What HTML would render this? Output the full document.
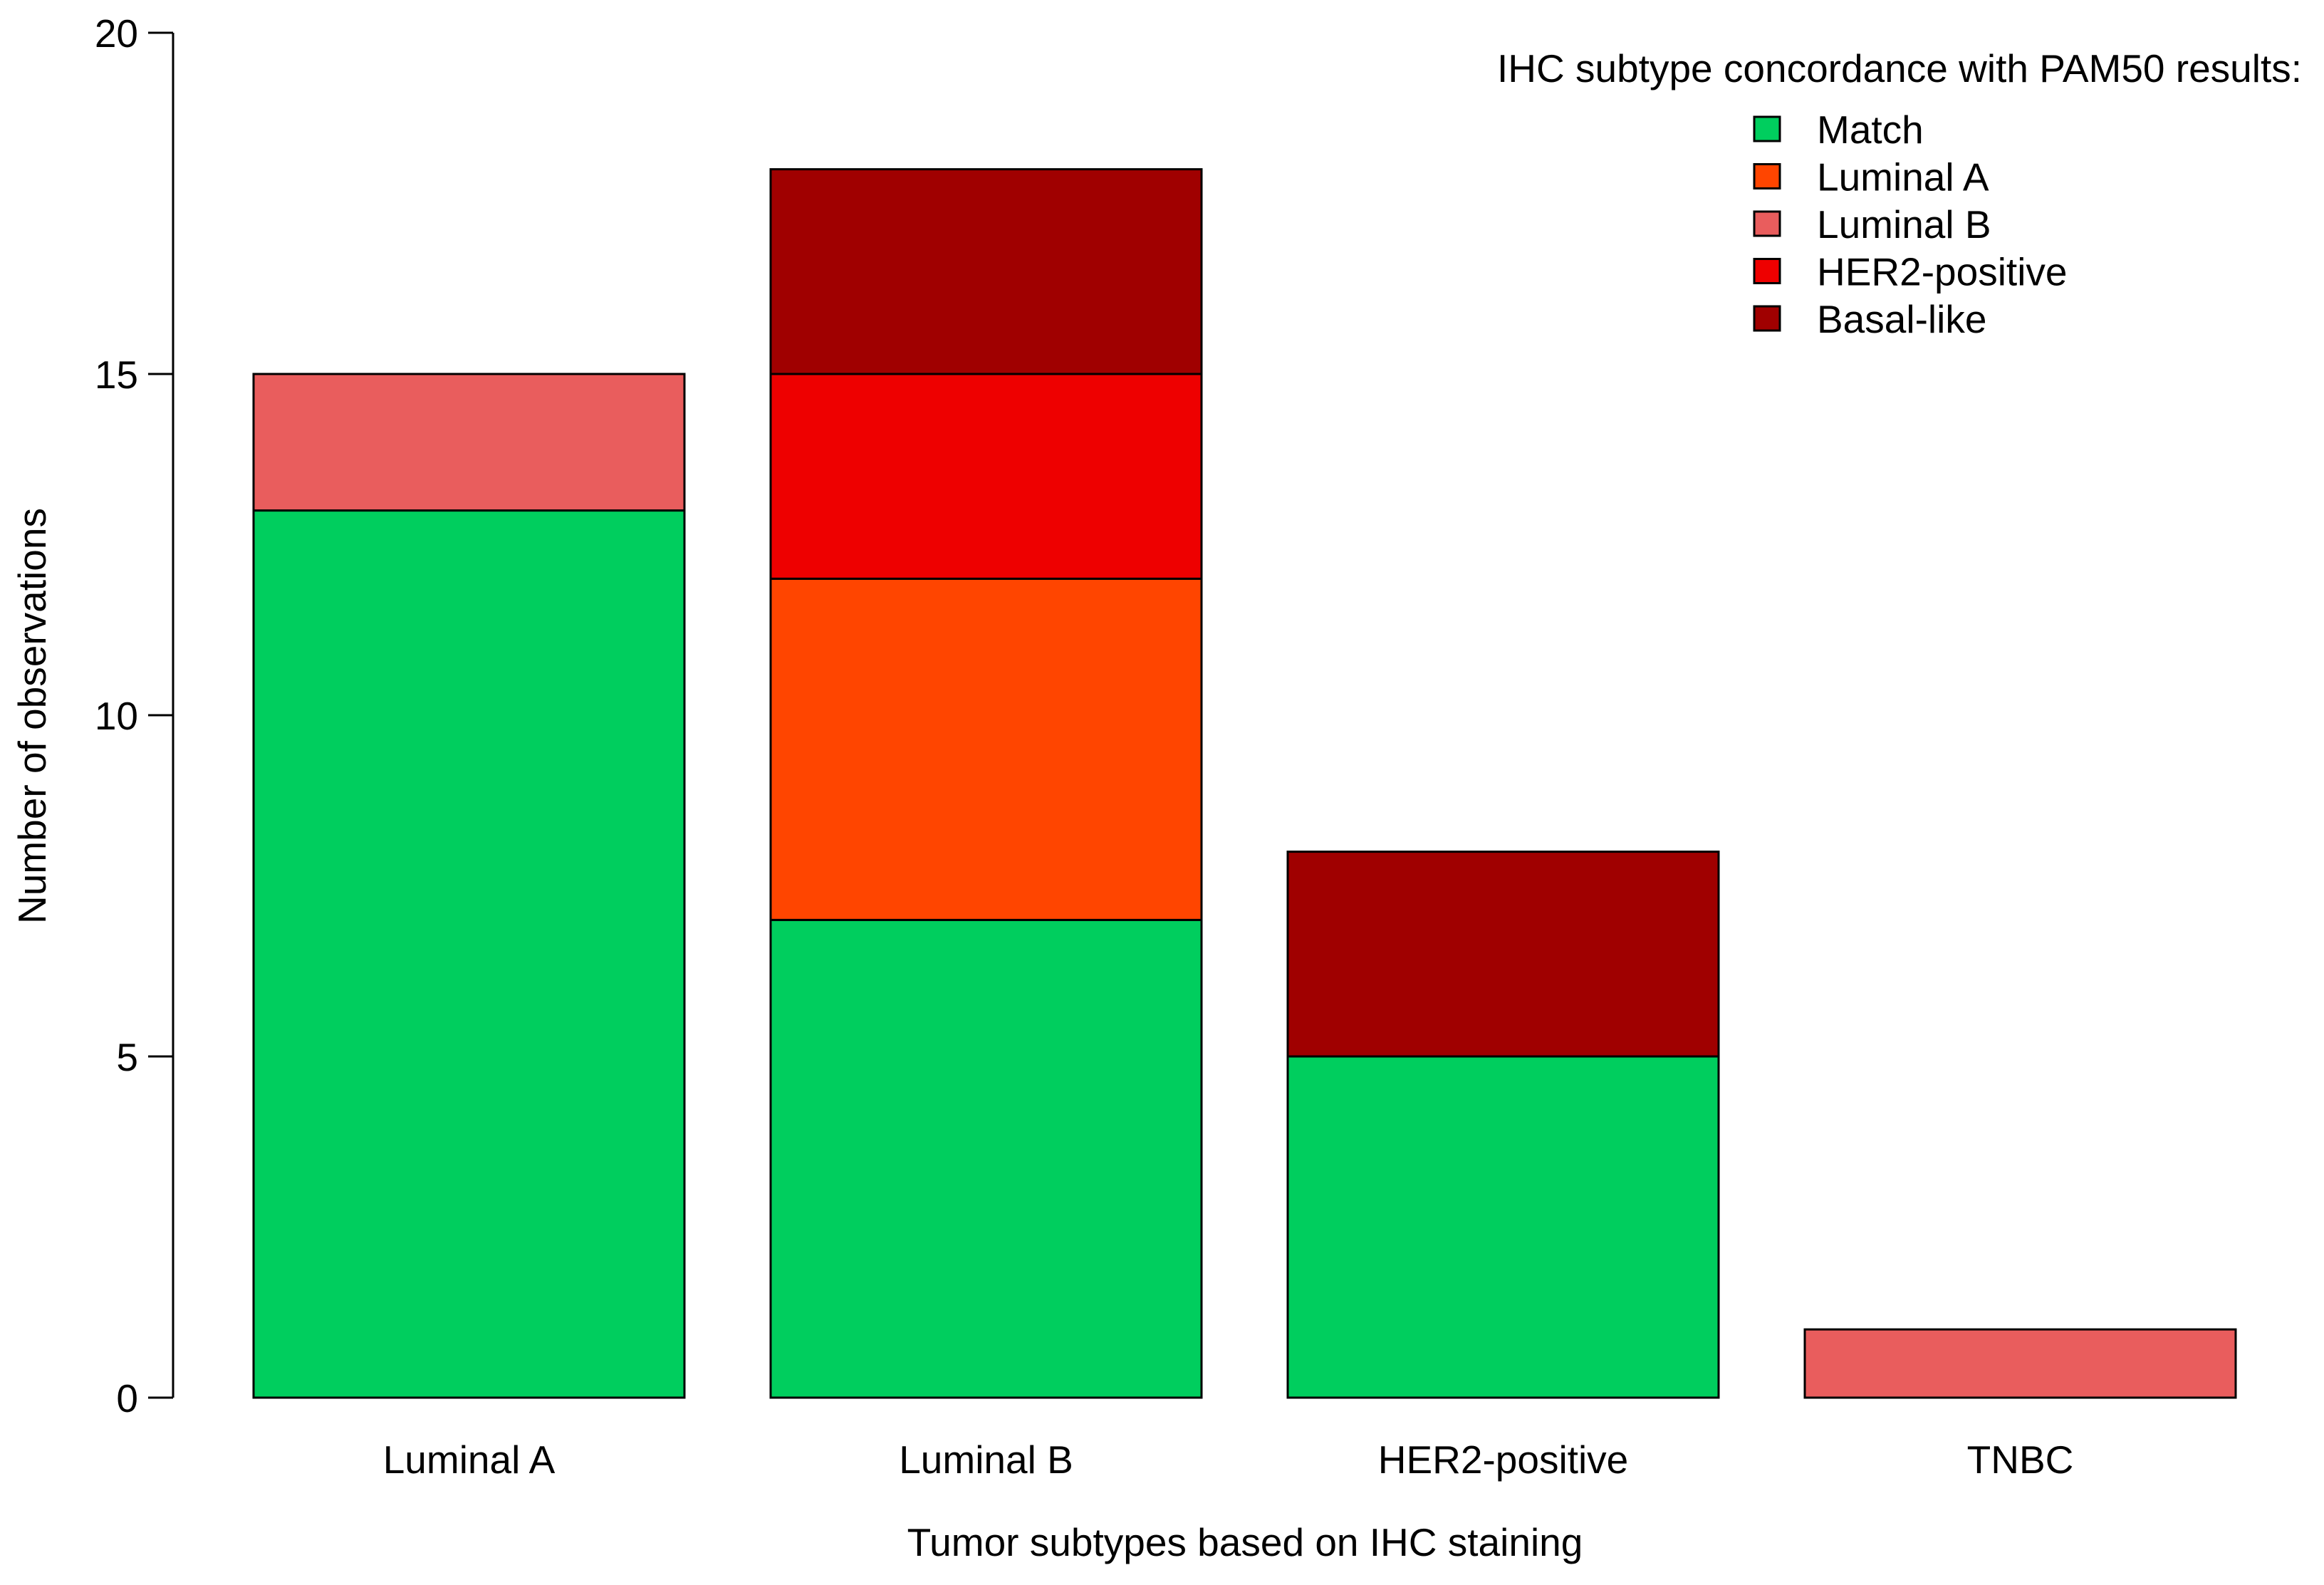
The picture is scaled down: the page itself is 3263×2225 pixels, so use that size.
<!DOCTYPE html>
<html><head><meta charset="utf-8"><style>
html,body{margin:0;padding:0;background:#fff}
svg{display:block}
text{font-family:"Liberation Sans",Arial,sans-serif;fill:#000}
</style></head><body>
<svg id="chart" width="3263" height="2225" viewBox="0 0 3263 2225" xmlns="http://www.w3.org/2000/svg">
<g id="bars"></g>
<g id="axis"></g>
<g id="xlabels"></g>
<text x="1748" y="2184" font-size="55" text-anchor="middle">Tumor subtypes based on IHC staining</text>
<text transform="translate(64,1005) rotate(-90)" font-size="55" text-anchor="middle">Number of observations</text>
<g id="legend">
<text x="2102" y="115" font-size="55">IHC subtype concordance with PAM50 results:</text>
</g>
</svg>
<script>
const categories = ["Luminal A","Luminal B","HER2-positive","TNBC"];
const seriesNames = ["Match","Luminal A","Luminal B","HER2-positive","Basal-like"];
const seriesColors = ["#00CE5E","#FF4500","#E95D5D","#EE0000","#A00000"];
const matchVals = [13,7,5,0];
const lumAVals = [0,5,0,0];
const lumBVals = [2,0,0,1];
const her2Vals = [0,3,0,0];
const basalVals = [0,3,3,0];
const yTicks = [0,5,10,15,20];

const series = [matchVals,lumAVals,lumBVals,her2Vals,basalVals];
const NS="http://www.w3.org/2000/svg";
const y0=1962, y20=46, axisX=243;
const yScale = v => y0 - v*(y0-y20)/20;
const barLeft0=356, barStep=726, barW=605;
const xScale = i => barLeft0 + i*barStep;

const bars=document.getElementById('bars');
categories.forEach((c,i)=>{
  let cum=0;
  series.forEach((s,k)=>{
    const v=s[i]; if(!v) return;
    const r=document.createElementNS(NS,'rect');
    r.setAttribute('x',xScale(i));
    r.setAttribute('y',yScale(cum+v));
    r.setAttribute('width',barW);
    r.setAttribute('height',yScale(cum)-yScale(cum+v));
    r.setAttribute('fill',seriesColors[k]);
    r.setAttribute('stroke','#000');
    r.setAttribute('stroke-width','3');
    
    
    bars.appendChild(r);
    cum+=v;
  });
  const t=document.createElementNS(NS,'text');
  t.setAttribute('x',xScale(i)+barW/2);
  t.setAttribute('y',2068);
  t.setAttribute('font-size','55');
  t.setAttribute('text-anchor','middle');
  t.textContent=c;
  
  
  document.getElementById('xlabels').appendChild(t);
});

const ax=document.getElementById('axis');
const line=document.createElementNS(NS,'line');
line.setAttribute('x1',axisX);line.setAttribute('x2',axisX);
line.setAttribute('y1',yScale(yTicks[0]));line.setAttribute('y2',yScale(yTicks[yTicks.length-1]));
line.setAttribute('stroke','#000');line.setAttribute('stroke-width','3');


ax.appendChild(line);
yTicks.forEach(v=>{
  const tk=document.createElementNS(NS,'line');
  tk.setAttribute('x1',208);tk.setAttribute('x2',axisX);
  tk.setAttribute('y1',yScale(v));tk.setAttribute('y2',yScale(v));
  tk.setAttribute('stroke','#000');tk.setAttribute('stroke-width','3');
  
  
  ax.appendChild(tk);
  const t=document.createElementNS(NS,'text');
  t.setAttribute('x',194);t.setAttribute('y',yScale(v)+20);
  t.setAttribute('font-size','55');t.setAttribute('text-anchor','end');
  t.textContent=v;
  
  
  ax.appendChild(t);
});

const lg=document.getElementById('legend');
seriesNames.forEach((n,k)=>{
  const cy=181+k*66.5;
  const r=document.createElementNS(NS,'rect');
  r.setAttribute('x',2463);r.setAttribute('y',cy-17);
  r.setAttribute('width',36);r.setAttribute('height',34);
  r.setAttribute('fill',seriesColors[k]);r.setAttribute('stroke','#000');r.setAttribute('stroke-width','3');
  
  
  lg.appendChild(r);
  const t=document.createElementNS(NS,'text');
  t.setAttribute('x',2551);t.setAttribute('y',cy+20);
  t.setAttribute('font-size','55');
  t.textContent=n;
  
  
  lg.appendChild(t);
});
</script>
</body></html>
